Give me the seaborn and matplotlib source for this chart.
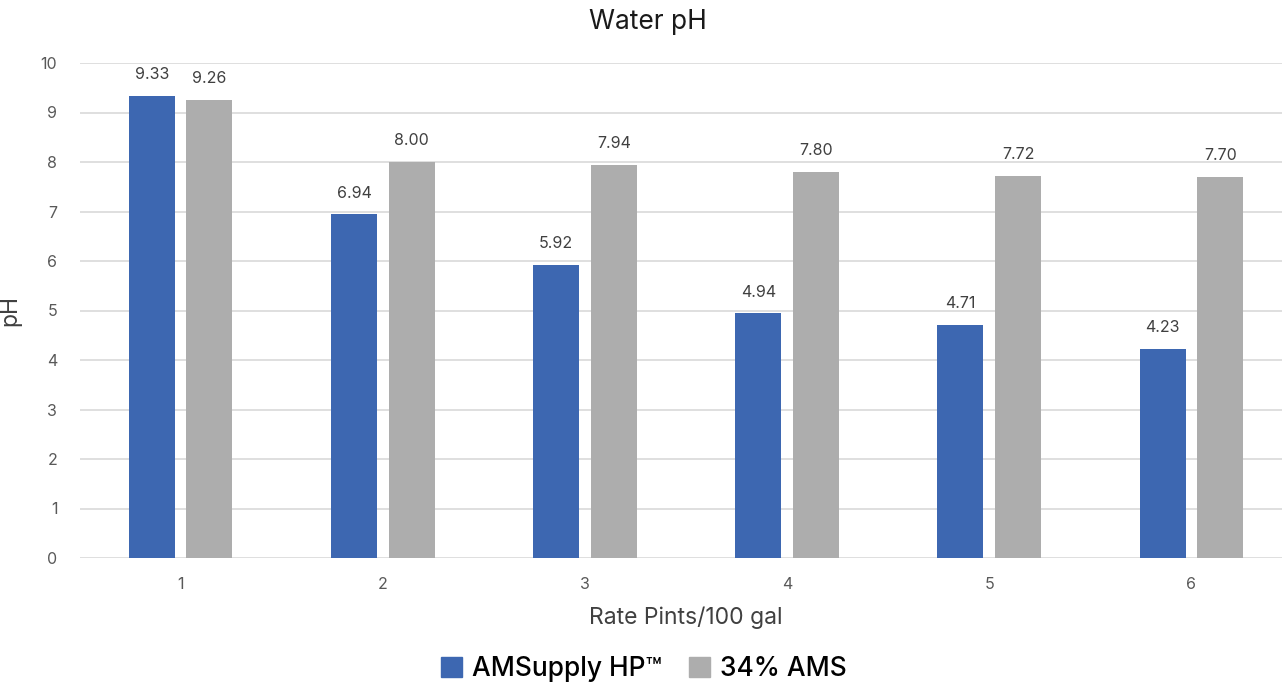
import numpy as np
import pandas as pd
import seaborn as sns
import matplotlib.pyplot as plt

rates = ["1", "2", "3", "4", "5", "6"]
amsupply = [9.33, 6.94, 5.92, 4.94, 4.71, 4.23]
ams34 = [9.26, 8.00, 7.94, 7.80, 7.72, 7.70]
series = ["AMSupply HP\u2122", "34% AMS"]

df = pd.DataFrame({
    "rate": rates * 2,
    "ph": amsupply + ams34,
    "product": [series[0]] * 6 + [series[1]] * 6,
})

sns.set_style("white")
plt.rcParams["font.family"] = ["Inter", "DejaVu Sans"]

fig = plt.figure(figsize=(12.82, 6.86), dpi=100)
ax = fig.add_axes([79.5 / 1282, 128 / 686, 1213 / 1282, 495 / 686])

sns.barplot(data=df, x="rate", y="ph", hue="product", order=rates,
            hue_order=series, palette=["#3D67B1", "#ADADAD"],
            width=0.57, gap=0.2, saturation=1, linewidth=0,
            ax=ax, legend=False)

for cont in ax.containers:
    ax.bar_label(cont, fmt="%.2f", padding=10, fontsize=11.5, color="#404040")

ax.set_ylim(0, 10)
ax.set_xlim(-0.5, 5.5)
ax.set_yticks(range(0, 11))
ax.grid(axis="y", color="#D9D9D9", linewidth=1.2)
ax.set_axisbelow(True)
for s in ax.spines.values():
    s.set_visible(False)
ax.tick_params(axis="both", length=0, labelsize=11.5, colors="#595959", pad=16)
ax.tick_params(axis="x", pad=14)

ax.set_xlabel("Rate Pints/100 gal", fontsize=16.5, color="#404040", labelpad=10)
ax.set_ylabel("pH", fontsize=16.5, color="#404040", labelpad=14)
fig.text(648 / 1282, 1 - 22 / 686, "Water pH", ha="center", va="center",
         fontsize=19, color="#1a1a1a")

handles = [plt.Rectangle((0, 0), 1, 1, color=c) for c in ["#3D67B1", "#ADADAD"]]
fig.legend(handles, series, loc="center", bbox_to_anchor=(644 / 1282, 1 - 669 / 686),
           ncol=2, frameon=False, handlelength=0.8, handleheight=0.8,
           handletextpad=0.4, columnspacing=1.0, labelcolor="black",
           prop={"size": 19, "weight": "medium"})

fig.savefig("out.png", dpi=100)
